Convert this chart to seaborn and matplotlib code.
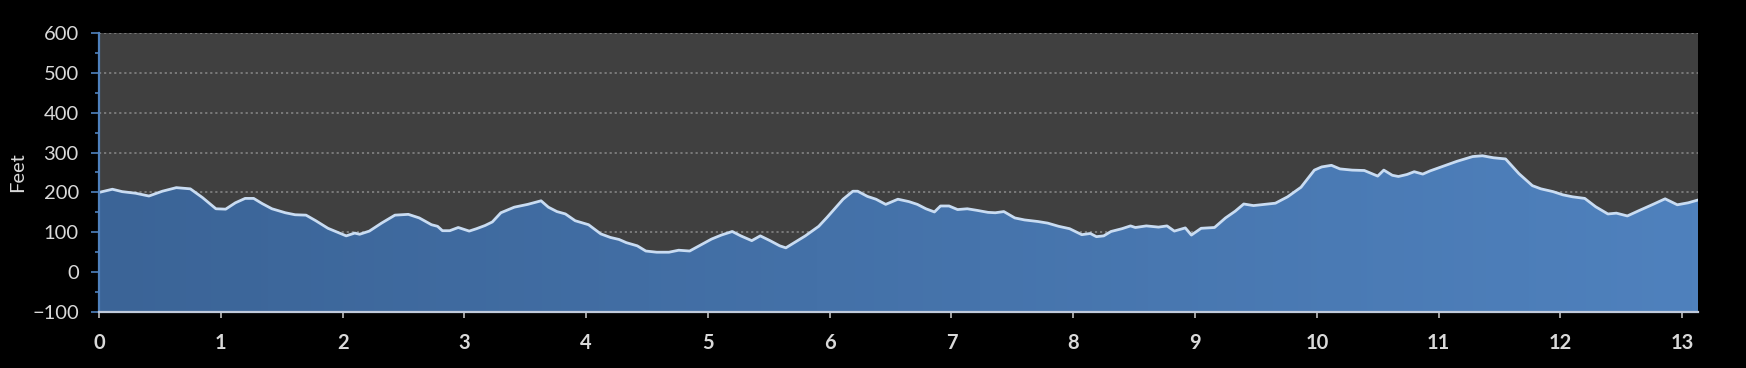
import numpy as np
import pandas as pd
import matplotlib
matplotlib.use("Agg")
import matplotlib.pyplot as plt
from matplotlib.colors import LinearSegmentedColormap
from matplotlib.ticker import MultipleLocator
import seaborn as sns

# ---- data ----
miles = [0, 0.11, 0.19, 0.30, 0.41, 0.52, 0.635, 0.75, 0.85, 0.96, 1.04, 1.12, 1.20, 1.27, 1.34,
         1.42, 1.53, 1.61, 1.70, 1.78, 1.88, 1.96, 2.03, 2.10, 2.14, 2.22, 2.32, 2.43, 2.54, 2.63,
         2.73, 2.78, 2.82, 2.88, 2.95, 3.04, 3.10, 3.17, 3.23, 3.30, 3.41, 3.52, 3.63, 3.69, 3.76,
         3.83, 3.91, 4.02, 4.12, 4.20, 4.27, 4.33, 4.42, 4.49, 4.58, 4.68, 4.76, 4.85, 4.94, 5.03,
         5.11, 5.20, 5.27, 5.36, 5.43, 5.51, 5.59, 5.64, 5.72, 5.80, 5.91, 5.98, 6.11, 6.19, 6.23,
         6.31, 6.38, 6.46, 6.56, 6.65, 6.72, 6.79, 6.86, 6.91, 6.98, 7.05, 7.13, 7.21, 7.30, 7.36,
         7.43, 7.52, 7.60, 7.71, 7.79, 7.88, 7.97, 8.07, 8.14, 8.19, 8.25, 8.31, 8.40, 8.47, 8.51,
         8.60, 8.70, 8.77, 8.83, 8.92, 8.97, 9.05, 9.16, 9.25, 9.33, 9.40, 9.48, 9.57, 9.66, 9.76,
         9.87, 9.98, 10.04, 10.12, 10.19, 10.29, 10.39, 10.50, 10.55, 10.62, 10.67, 10.74, 10.80,
         10.87, 10.93, 11.04, 11.15, 11.28, 11.36, 11.45, 11.55, 11.66, 11.77, 11.84, 11.94, 12.02,
         12.10, 12.20, 12.29, 12.39, 12.46, 12.55, 12.65, 12.76, 12.86, 12.96, 13.05, 13.13]
elevation = [200, 208, 202, 198, 191, 203, 212, 209, 187, 159, 158, 174, 185, 185, 172,
             159, 149, 144, 143, 129, 110, 100, 91, 98, 95, 103, 123, 143, 145, 136,
             119, 115, 104, 104, 112, 103, 109, 117, 126, 149, 163, 170, 179, 163, 152,
             146, 129, 119, 96, 87, 82, 74, 66, 53, 50, 50, 55, 53, 68, 83,
             93, 102, 91, 79, 91, 79, 66, 61, 76, 91, 115, 138, 183, 203, 203,
             190, 183, 170, 183, 177, 170, 159, 151, 166, 166, 157, 159, 155, 150, 149,
             152, 136, 131, 127, 123, 115, 109, 94, 97, 89, 91, 102, 109, 116, 112,
             116, 113, 116, 103, 111, 93, 110, 112, 136, 153, 171, 167, 170, 173, 189,
             213, 256, 264, 268, 259, 256, 255, 241, 256, 243, 240, 245, 252,
             246, 254, 266, 278, 290, 292, 287, 284, 247, 217, 209, 202, 194,
             189, 185, 164, 146, 148, 141, 155, 170, 184, 169, 174, 181]
x_ticks = list(range(0, 14))
y_ticks = list(range(-100, 601, 100))
y_label = "Feet"

df = pd.DataFrame({"Miles": miles, "Feet": elevation})

sns.set_style("dark")
plt.rcParams["font.family"] = ["Lato", "DejaVu Sans"]

fig = plt.figure(figsize=(17.46, 3.68), dpi=100, facecolor="black")
ax = fig.add_axes([99 / 1746, 56 / 368, 1599 / 1746, 279 / 368])
ax.set_facecolor("#404040")

xmax = max(miles)
ymin, ymax = min(y_ticks), max(y_ticks)

# area fill with horizontal gradient
poly = ax.fill_between(df["Miles"], df["Feet"], ymin, color="none", zorder=2)
cmap = LinearSegmentedColormap.from_list("grad", ["#3b6497", "#4f81bd"])
img = ax.imshow(np.linspace(0, 1, 256).reshape(1, -1), cmap=cmap, aspect="auto",
                extent=[0, xmax, ymin, ymax], zorder=2, origin="lower")
img.set_clip_path(poly.get_paths()[0], transform=ax.transData)

sns.lineplot(data=df, x="Miles", y="Feet", ax=ax, color="#c9dcf2", linewidth=2.0,
             zorder=3, estimator=None, sort=False)

ax.set_xlim(0, xmax)
ax.set_ylim(ymin, ymax)
ax.set_xticks(x_ticks)
ax.set_yticks(y_ticks)
ax.yaxis.set_minor_locator(MultipleLocator(50))

ax.grid(False)
ax.yaxis.grid(True, which="major", linestyle=(0, (1.2, 1.6)), color="#7f7f7f", linewidth=1.3, zorder=1)
ax.set_axisbelow(True)

for s in ["top", "right"]:
    ax.spines[s].set_visible(False)
ax.spines["left"].set_color("#4f81bd")
ax.spines["left"].set_linewidth(1.6)
ax.spines["bottom"].set_color("#c0cadb")
ax.spines["bottom"].set_linewidth(1.6)
ax.spines["left"].set_zorder(4)
ax.spines["bottom"].set_zorder(4)

ax.tick_params(axis="y", which="major", direction="out", length=5.5, width=1.2,
               color="#4f81bd", labelcolor="#d9d9d9", labelsize=14.5, pad=9, left=True)
ax.tick_params(axis="y", which="minor", direction="out", length=3, width=1.2,
               color="#4f81bd", left=True)
ax.tick_params(axis="x", which="major", direction="out", length=4, width=1.2,
               color="#bfbfbf", labelcolor="#d9d9d9", labelsize=14.5, pad=11, bottom=True)
for lbl in ax.get_xticklabels():
    lbl.set_fontweight("bold")

ax.set_xlabel("")
ax.set_ylabel(y_label, color="#d9d9d9", fontsize=14.5, labelpad=4)

fig.savefig("out.png", dpi=100, facecolor="black")
